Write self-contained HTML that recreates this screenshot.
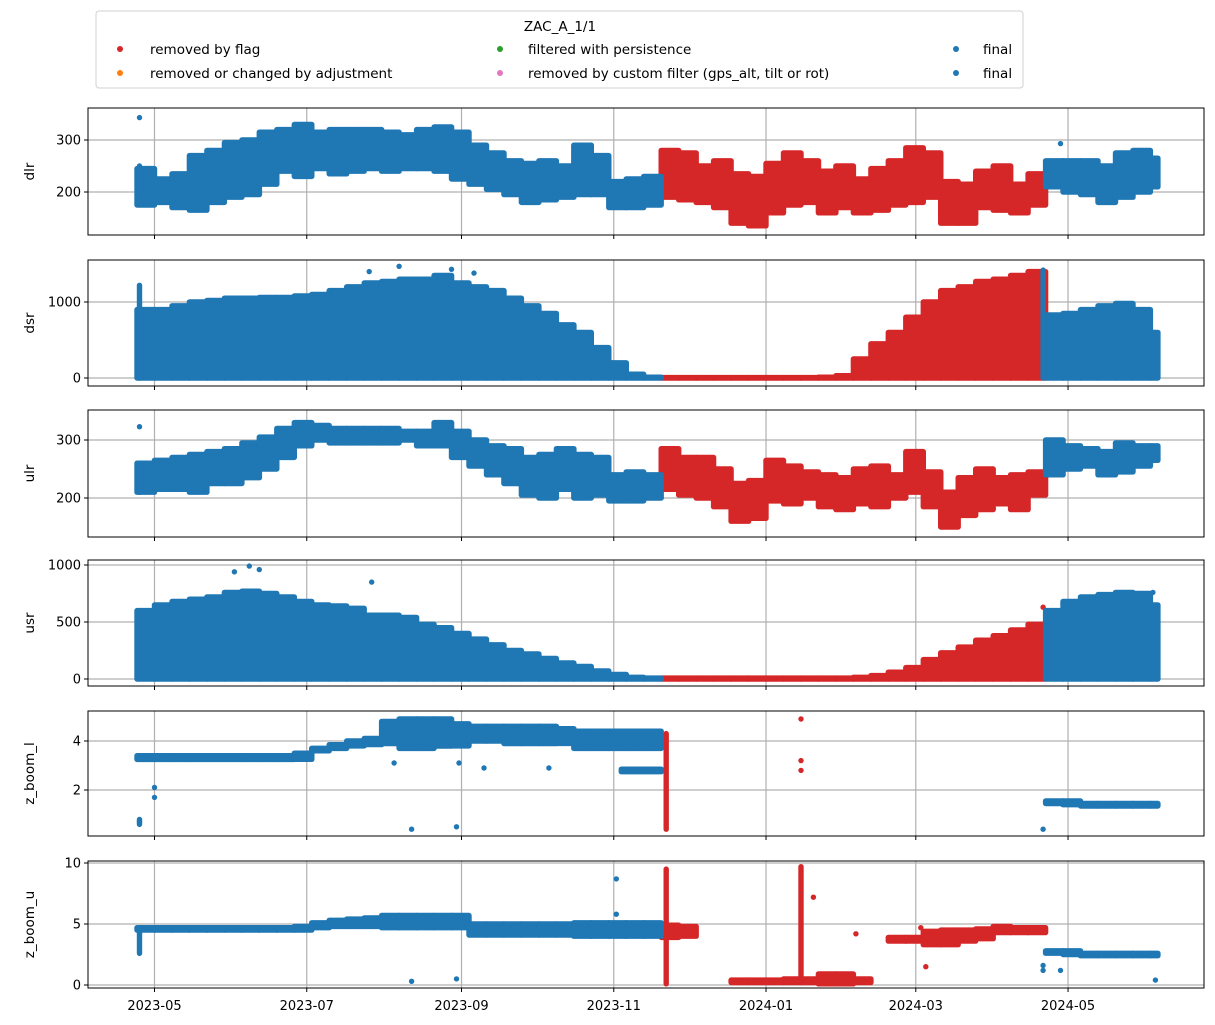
<!DOCTYPE html>
<html><head><meta charset="utf-8"><title>ZAC_A_1/1</title>
<style>
html,body{margin:0;padding:0;background:#fff;}
svg{display:block;font-family:"DejaVu Sans","Liberation Sans",sans-serif;}
</style></head>
<body>
<svg id="chart" width="1215" height="1025" viewBox="0 0 1215 1025" xmlns="http://www.w3.org/2000/svg">
<g>
<rect x="96" y="11" width="927" height="77" rx="3" fill="#fff" stroke="#d0d0d0" stroke-width="1"/>
<text x="560" y="31" font-size="13.5" text-anchor="middle">ZAC_A_1/1</text>
<g><circle cx="120" cy="49" r="3" fill="#d62728"/><text x="150" y="54" font-size="13.5">removed by flag</text></g>
<g><circle cx="120" cy="73" r="3" fill="#ff7f0e"/><text x="150" y="78" font-size="13.5">removed or changed by adjustment</text></g>
<g><circle cx="500" cy="49" r="3" fill="#2ca02c"/><text x="528" y="54" font-size="13.5">filtered with persistence</text></g>
<g><circle cx="500" cy="73" r="3" fill="#e377c2"/><text x="528" y="78" font-size="13.5">removed by custom filter (gps_alt, tilt or rot)</text></g>
<g><circle cx="956" cy="49" r="3" fill="#1f77b4"/><text x="983" y="54" font-size="13.5">final</text></g>
<g><circle cx="956" cy="73" r="3" fill="#1f77b4"/><text x="983" y="78" font-size="13.5">final</text></g>
</g>
</svg>
<script>
// ---- data (weekly bins starting 2023-04-24) ----
const binStartDate = '2023-04-24';
const binCount = 59;
const flagStart = '2023-11-20';
const flagEnd = '2024-04-22';
const xTickLabels = ['2023-05','2023-07','2023-09','2023-11','2024-01','2024-03','2024-05'];

const dlrLo = [175,180,170,165,180,190,195,215,240,230,245,235,240,245,240,245,245,240,225,215,205,195,180,185,190,195,195,170,170,175,190,185,180,170,140,135,160,175,180,160,170,160,165,175,180,190,140,140,170,165,160,175,210,200,195,180,190,200,210];
const dlrHi = [245,225,235,270,280,295,300,315,320,330,315,320,320,320,315,310,320,325,315,290,275,260,255,260,250,290,270,220,225,230,280,275,250,260,235,230,255,275,260,240,250,225,245,260,285,275,220,215,240,250,215,235,260,260,260,250,275,280,265];

const dsrLo = [0,0,0,0,0,0,0,0,0,0,0,0,0,0,0,0,0,0,0,0,0,0,0,0,0,0,0,0,0,0,0,0,0,0,0,0,0,0,0,0,0,0,0,0,0,0,0,0,0,0,0,0,0,0,0,0,0,0,0];
const dsrHi = [900,900,950,1000,1020,1050,1050,1060,1060,1080,1100,1150,1200,1250,1270,1300,1300,1350,1250,1200,1150,1050,950,850,700,600,400,200,50,10,5,5,5,5,5,5,5,5,5,10,30,250,450,600,800,1000,1150,1200,1270,1300,1350,1400,830,850,900,950,980,900,600];

const ulrLo = [210,215,215,210,225,225,235,250,270,290,300,295,295,295,295,300,290,290,270,255,240,225,205,200,215,200,205,195,195,200,215,205,200,185,160,165,195,190,200,185,180,190,185,200,210,185,150,170,180,190,180,205,240,250,255,240,245,255,265];
const ulrHi = [260,265,270,275,280,285,295,305,320,330,325,320,320,320,320,315,315,330,315,300,290,285,270,275,285,275,270,240,245,240,285,270,270,250,225,230,265,255,245,240,235,250,255,240,280,245,210,235,250,235,240,245,300,290,285,280,295,290,290];

const usrLo = [0,0,0,0,0,0,0,0,0,0,0,0,0,0,0,0,0,0,0,0,0,0,0,0,0,0,0,0,0,0,0,0,0,0,0,0,0,0,0,0,0,0,0,0,0,0,0,0,0,0,0,0,0,0,0,0,0,0,0];
const usrHi = [600,650,680,700,720,760,770,750,720,680,650,640,620,560,560,540,480,450,400,350,300,250,220,180,140,110,70,40,15,8,8,8,8,8,8,8,8,8,8,8,8,15,30,60,100,170,230,280,340,380,430,480,600,680,720,740,760,750,650];

const zblLo = [3.25,3.25,3.25,3.25,3.25,3.25,3.25,3.25,3.25,3.25,3.6,3.7,3.8,3.85,3.9,3.7,3.7,3.8,3.8,4.0,4.0,3.9,3.9,3.9,3.9,3.7,3.7,3.7,3.7,3.7,null,null,null,null,null,null,null,null,null,null,null,null,null,null,null,null,null,null,null,null,null,null,1.45,1.4,1.35,1.35,1.35,1.35,1.35];
const zblHi = [3.4,3.4,3.4,3.4,3.4,3.4,3.4,3.4,3.4,3.5,3.7,3.85,4.0,4.1,4.8,4.9,4.9,4.9,4.7,4.6,4.6,4.6,4.6,4.6,4.5,4.4,4.4,4.4,4.4,4.4,null,null,null,null,null,null,null,null,null,null,null,null,null,null,null,null,null,null,null,null,null,null,1.55,1.55,1.45,1.45,1.45,1.45,1.45];

const zbuLo = [4.5,4.5,4.5,4.5,4.5,4.5,4.5,4.5,4.5,4.5,4.7,4.8,4.8,4.8,4.7,4.7,4.7,4.7,4.7,4.1,4.1,4.1,4.1,4.1,4.1,4.0,4.0,4.0,4.0,4.0,3.9,4.0,null,null,0.2,0.2,0.2,0.2,0.2,0.1,0.1,0.2,null,3.6,3.6,3.3,3.3,3.6,3.8,4.3,4.3,4.3,2.6,2.5,2.4,2.4,2.4,2.4,2.4];
const zbuHi = [4.7,4.7,4.7,4.7,4.7,4.7,4.7,4.7,4.7,4.8,5.1,5.3,5.4,5.5,5.7,5.7,5.7,5.7,5.7,5.0,5.0,5.0,5.0,5.0,5.0,5.1,5.1,5.1,5.1,5.1,4.9,4.8,null,null,0.4,0.4,0.4,0.5,0.5,0.9,0.9,0.5,null,3.9,3.9,4.4,4.5,4.5,4.6,4.8,4.7,4.7,2.8,2.8,2.6,2.6,2.6,2.6,2.6];

// extra segments: [panel, startDate, endDate, lo, hi, flagged]
const segPanel = ['dlr','dsr','dsr','ulr','ulr','zbl','zbl','zbl','zbu','zbu','zbu'];
const segStart = ['2023-04-25','2023-04-25','2024-04-21','2023-04-25','2023-04-25','2023-11-04','2023-11-22','2023-04-25','2023-11-22','2024-01-15','2023-04-25'];
const segEnd   = ['2023-04-25','2023-04-25','2024-04-21','2023-04-25','2023-04-25','2023-11-20','2023-11-22','2023-04-25','2023-11-22','2024-01-15','2023-04-25'];
const segLo    = [200,0,0,210,210,2.75,0.4,0.6,0.1,0.5,2.6];
const segHi    = [250,1220,1420,260,260,2.85,4.3,0.8,9.5,9.7,4.7];
const segFlag  = [0,0,0,0,0,0,1,0,1,1,0];

// outlier points
const ptPanel = ['dlr','dlr','dsr','dsr','dsr','dsr','ulr','usr','usr','usr','usr','usr','usr','zbl','zbl','zbl','zbl','zbl','zbl','zbl','zbl','zbl','zbl','zbl','zbl','zbl','zbu','zbu','zbu','zbu','zbu','zbu','zbu','zbu','zbu','zbu','zbu','zbu'];
const ptDate  = ['2023-04-25','2024-04-28','2023-08-07','2023-08-28','2023-07-26','2023-09-06','2023-04-25','2023-06-02','2023-06-08','2023-06-12','2023-07-27','2024-04-21','2024-06-04','2023-04-25','2023-05-01','2023-05-01','2023-08-12','2023-08-30','2024-04-21','2023-08-05','2023-08-31','2023-09-10','2023-10-06','2024-01-15','2024-01-15','2024-01-15','2023-08-12','2023-08-30','2023-11-02','2023-11-02','2024-01-20','2024-02-06','2024-03-05','2024-03-03','2024-04-21','2024-04-21','2024-04-28','2024-06-05'];
const ptValue = [343,293,1470,1430,1400,1380,323,940,990,960,850,630,760,0.7,2.1,1.7,0.4,0.5,0.4,3.1,3.1,2.9,2.9,4.9,3.2,2.8,0.3,0.5,8.7,5.8,7.2,4.2,1.5,4.7,1.6,1.2,1.2,0.4];
const ptFlag  = [0,0,0,0,0,0,0,0,0,0,0,1,0,0,0,0,0,0,0,0,0,0,0,1,1,1,0,0,0,0,1,1,1,1,0,0,0,0];

// ---- layout ----
const SVGNS = 'http://www.w3.org/2000/svg';
const svg = document.getElementById('chart');
const X0 = 88, X1 = 1204;
const BLUE = '#1f77b4', RED = '#d62728';
const panels = [
  {key:'dlr', label:'dlr', top:108, bot:235, v1:200, p1:192, v2:300, p2:140, ticks:[200,300], lo:dlrLo, hi:dlrHi},
  {key:'dsr', label:'dsr', top:260, bot:386, v1:0, p1:378, v2:1000, p2:302, ticks:[0,1000], lo:dsrLo, hi:dsrHi},
  {key:'ulr', label:'ulr', top:410, bot:537, v1:200, p1:498, v2:300, p2:440, ticks:[200,300], lo:ulrLo, hi:ulrHi},
  {key:'usr', label:'usr', top:560, bot:686, v1:0, p1:679, v2:1000, p2:565, ticks:[0,500,1000], lo:usrLo, hi:usrHi},
  {key:'zbl', label:'z_boom_l', top:711, bot:836, v1:2, p1:790, v2:4, p2:741, ticks:[2,4], lo:zblLo, hi:zblHi},
  {key:'zbu', label:'z_boom_u', top:861, bot:988, v1:0, p1:985, v2:10, p2:863, ticks:[0,5,10], lo:zbuLo, hi:zbuHi}
];
function dayNum(s){const p=s.split('-').map(Number);return (Date.UTC(p[0],p[1]-1,p[2])-Date.UTC(2023,4,1))/86400000;}
function xScale(d){return 154.5 + d*2.496;}
function mk(tag, attrs){const e=document.createElementNS(SVGNS,tag);for(const k in attrs)e.setAttribute(k,attrs[k]);return e;}

const defs = mk('defs',{});
svg.appendChild(defs);
const b0 = dayNum(binStartDate), endDay = dayNum('2024-06-06');
const fS = dayNum(flagStart), fE = dayNum(flagEnd);
const R = 2.7;

panels.forEach((P, pi) => {
  const yS = v => P.p1 + (v - P.v1) * (P.p2 - P.p1) / (P.v2 - P.v1);
  const g = mk('g',{});
  
  
  svg.appendChild(g);
  const cp = mk('clipPath',{id:'clip'+pi});
  cp.appendChild(mk('rect',{x:X0,y:P.top,width:X1-X0,height:P.bot-P.top}));
  defs.appendChild(cp);
  // grid
  const grid = mk('g',{stroke:'#b0b0b0','stroke-width':1.2});
  
  
  g.appendChild(grid);
  xTickLabels.forEach(t => {
    const x = xScale(dayNum(t + '-01'));
    grid.appendChild(mk('line',{x1:x,x2:x,y1:P.top,y2:P.bot}));
  });
  P.ticks.forEach(t => {
    const y = yS(t);
    grid.appendChild(mk('line',{x1:X0,x2:X1,y1:y,y2:y}));
  });
  // data
  const marks = mk('g',{'clip-path':'url(#clip'+pi+')'});
  
  
  g.appendChild(marks);
  const redL = mk('g',{fill:RED}), blueL = mk('g',{fill:BLUE});
  marks.appendChild(redL); marks.appendChild(blueL);
  function bar(d1, d2, lo, hi, flagged, name){
    const xa = xScale(d1) - R, xb = xScale(d2) + R;
    const ya = yS(hi) - R, yb = yS(lo) + R;
    const r = mk('rect',{x:xa.toFixed(1),y:ya.toFixed(1),width:Math.max(2*R,xb-xa).toFixed(1),height:Math.max(2*R,yb-ya).toFixed(1),rx:R});
    
    
    (flagged ? redL : blueL).appendChild(r);
  }
  for (let i = 0; i < binCount; i++) {
    if (P.lo[i] === null || P.hi[i] === null) continue;
    const d1 = b0 + i*7, d2 = Math.min(b0 + i*7 + 7, endDay);
    const flagged = d1 >= fS && d1 < fE;
    bar(d1, d2, P.lo[i], P.hi[i], flagged, 'bin-' + P.key + '-' + i);
  }
  for (let i = 0; i < segPanel.length; i++) {
    if (segPanel[i] !== P.key) continue;
    bar(dayNum(segStart[i]), dayNum(segEnd[i]), segLo[i], segHi[i], segFlag[i] === 1, 'segment-' + P.key + '-' + i);
  }
  for (let i = 0; i < ptPanel.length; i++) {
    if (ptPanel[i] !== P.key) continue;
    const c = mk('circle',{cx:xScale(dayNum(ptDate[i])).toFixed(1),cy:yS(ptValue[i]).toFixed(1),r:R});
    
    
    (ptFlag[i] === 1 ? redL : blueL).appendChild(c);
  }
  // frame
  const fr = mk('rect',{x:X0,y:P.top,width:X1-X0,height:P.bot-P.top,fill:'none',stroke:'#000','stroke-width':1});
  
  
  g.appendChild(fr);
  // y ticks
  const yax = mk('g',{});
  
  
  g.appendChild(yax);
  P.ticks.forEach(t => {
    const y = yS(t);
    yax.appendChild(mk('line',{x1:X0-4,x2:X0,y1:y,y2:y,stroke:'#000','stroke-width':1}));
    const tx = mk('text',{x:X0-7,y:y+4.5,'font-size':13,'text-anchor':'end'});
    
    
    tx.textContent = String(t);
    yax.appendChild(tx);
  });
  const yc = (P.top + P.bot)/2;
  const yl = mk('text',{x:0,y:0,'font-size':13.5,'text-anchor':'middle',transform:'translate(34,'+yc+') rotate(-90)'});
  
  
  yl.textContent = P.label;
  yax.appendChild(yl);
  // x ticks
  const xax = mk('g',{});
  
  
  g.appendChild(xax);
  xTickLabels.forEach(t => {
    const x = xScale(dayNum(t + '-01'));
    xax.appendChild(mk('line',{x1:x,x2:x,y1:P.bot,y2:P.bot+4,stroke:'#000','stroke-width':1}));
    if (pi === panels.length - 1) {
      const tx = mk('text',{x:x,y:P.bot+22,'font-size':13,'text-anchor':'middle'});
      
      
      tx.textContent = t;
      xax.appendChild(tx);
    }
  });
});
</script>
</body></html>
